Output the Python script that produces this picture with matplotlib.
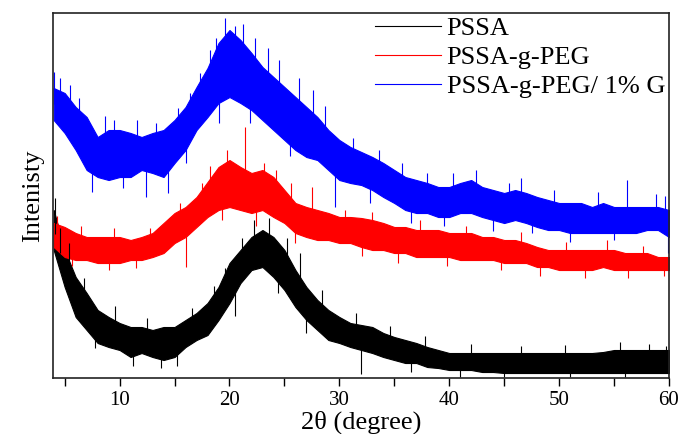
import numpy as np
import matplotlib
matplotlib.use("Agg")
import matplotlib.pyplot as plt
from matplotlib.lines import Line2D

plt.rcParams['font.family'] = ['Liberation Serif', 'DejaVu Serif']

# 2theta grid (degree), one reading per degree
two_theta = np.arange(4, 61)

# upper / lower edges of the noisy band (arb. units)
blue_hi = [290, 285, 271, 261, 241, 248, 248, 245, 241, 245, 248, 258, 271, 291, 310,
           335, 348, 338, 325, 311, 301, 291, 281, 271, 261, 248, 238, 231, 226, 221,
           215, 208, 201, 198, 195, 191, 191, 195, 198, 191, 188, 185, 188, 185, 181,
           178, 175, 175, 175, 171, 175, 171, 171, 171, 171, 171, 168]
blue_lo = [258, 245, 228, 208, 201, 198, 201, 201, 208, 205, 201, 215, 228, 248, 261,
           275, 281, 275, 268, 258, 248, 238, 228, 221, 218, 208, 198, 195, 193, 188,
           181, 175, 168, 165, 165, 161, 161, 165, 165, 161, 158, 155, 158, 155, 151,
           148, 148, 145, 145, 145, 145, 145, 145, 145, 148, 148, 141]

red_hi = [155, 151, 145, 141, 141, 141, 141, 138, 141, 145, 155, 165, 171, 181, 196,
          211, 218, 211, 205, 208, 201, 188, 175, 171, 168, 165, 161, 161, 160, 158,
          155, 151, 151, 148, 148, 148, 145, 145, 145, 141, 141, 138, 138, 135, 131,
          128, 128, 128, 128, 128, 128, 128, 125, 125, 125, 121, 121]
red_lo = [131, 121, 118, 118, 115, 115, 115, 118, 118, 121, 125, 135, 141, 151, 161,
          168, 171, 168, 165, 168, 161, 155, 145, 141, 138, 138, 135, 135, 131, 128,
          128, 125, 125, 121, 121, 121, 121, 118, 118, 118, 118, 115, 115, 115, 111,
          111, 108, 108, 108, 108, 111, 108, 108, 108, 108, 108, 108]

black_hi = [168, 128, 101, 85, 68, 61, 55, 51, 51, 48, 51, 51, 58, 65, 75,
            91, 115, 128, 141, 148, 141, 128, 108, 91, 78, 68, 61, 55, 53, 51,
            45, 41, 38, 35, 31, 28, 25, 25, 25, 25, 25, 25, 25, 25, 25,
            25, 25, 25, 25, 25, 26, 28, 28, 28, 28, 28, 28]
black_lo = [128, 91, 61, 48, 35, 31, 28, 21, 25, 21, 18, 21, 31, 38, 43,
            58, 75, 95, 108, 111, 101, 88, 71, 58, 48, 38, 35, 31, 28, 25,
            21, 18, 15, 15, 11, 10, 8, 8, 8, 6, 6, 5, 5, 5, 5,
            5, 5, 5, 5, 5, 5, 5, 5, 5, 5, 5, 5]

# single spikes sticking out of the bands (position, tip)
blue_spike_x = [4.0, 4.6, 5.5, 6.3, 8.7, 9.5, 11.6, 13.3, 15.3, 16.4, 17.3, 18.2, 18.8,
                19.6, 20.5, 21.2, 22.3, 23.5, 24.5, 26.3, 27.6, 28.7, 31.2, 33.6, 35.7,
                38.0, 40.3, 42.4, 45.4, 46.5, 49.5, 53.5, 56.2, 58.8, 59.6,
                7.5, 10.3, 12.4, 14.4, 16.0, 19.0, 21.9, 25.5, 29.6, 32.8, 36.5, 39.5,
                44.0, 47.5, 51.0, 55.0, 59.9]
blue_spike_y = [306, 300, 293, 280, 262, 258, 258, 255, 270, 285, 305, 328, 340,
                360, 352, 354, 340, 330, 318, 300, 288, 272, 240, 228, 215,
                205, 205, 208, 195, 200, 188, 186, 198, 184, 182,
                186, 190, 181, 185, 215, 255, 255, 222, 171, 175, 155, 152,
                147, 145, 136, 138, 125]
red_spike_x = [4.3, 6.5, 9.5, 12.8, 15.5, 17.5, 18.2, 19.8, 21.4, 23.1, 24.2, 25.6,
               27.5, 30.5, 33.0, 37.3, 41.5, 46.5, 50.6, 54.4, 57.6,
               5.7, 9.0, 11.5, 16.0, 19.3, 22.4, 26.0, 32.1, 35.3, 39.8, 44.7, 48.3,
               52.4, 56.3, 59.5]
red_spike_y = [162, 152, 150, 150, 175, 195, 212, 228, 251, 215, 208, 195,
               191, 168, 166, 158, 152, 146, 136, 138, 132,
               112, 108, 110, 111, 158, 152, 135, 122, 115, 112, 108, 102,
               100, 100, 102]
black_spike_x = [4.1, 4.6, 5.4, 6.8, 9.6, 12.5, 16.6, 18.6, 19.6, 21.1, 22.2, 23.6,
                 25.2, 26.4, 28.4, 31.5, 34.6, 37.8, 42.0, 46.5, 50.5, 55.5, 58.2, 59.7,
                 7.8, 11.2, 13.8, 15.2, 20.5, 24.4, 27.0, 32.0, 36.5, 41.0, 45.0, 51.0,
                 56.0]
black_spike_y = [180, 150, 135, 100, 72, 60, 70, 92, 110, 140, 158, 160,
                 140, 125, 88, 65, 52, 42, 34, 32, 33, 36, 34, 32,
                 30, 12, 10, 12, 62, 85, 45, 4, 6, 1, 1, 1,
                 1]

labels = ['PSSA', 'PSSA-g-PEG', 'PSSA-g-PEG/ 1% G']
colors = ['#000000', '#ff0000', '#0000ff']

fig, ax = plt.subplots(figsize=(6.83, 4.34), dpi=100)
fig.subplots_adjust(left=0.077, right=0.9795, top=0.970, bottom=0.129)

series = [
    (black_lo, black_hi, black_spike_x, black_spike_y),
    (red_lo, red_hi, red_spike_x, red_spike_y),
    (blue_lo, blue_hi, blue_spike_x, blue_spike_y),
]
for (lo, hi, sx, sy), c in zip(series, colors):
    lo = np.array(lo)
    hi = np.array(hi)
    ax.fill_between(two_theta, lo, hi, color=c, edgecolor=c, lw=0.8)
    mid = np.interp(sx, two_theta, (lo + hi) / 2)
    ax.vlines(sx, mid, sy, color=c, lw=0.8)

handles = [Line2D([], [], color=c, lw=0.8) for c in colors]
ax.legend(handles, labels, loc='upper right', frameon=False, fontsize=19,
          handlelength=2.5, handletextpad=0.2, labelspacing=0.2,
          borderaxespad=0.1, borderpad=0.05)

ax.set_xlim(3.9, 60)
ax.set_ylim(0, 365)
ax.set_xticks([10, 20, 30, 40, 50, 60])
ax.set_xticks([5, 15, 25, 35, 45, 55], minor=True)
ax.tick_params(axis='x', which='both', direction='out', length=6, width=1,
               labelsize=15, top=False)
ax.set_yticks([])
for s in ax.spines.values():
    s.set_linewidth(1.2)
    s.set_color('#222222')

ax.set_xlabel('2θ (degree)', fontsize=19, labelpad=0)
ax.set_ylabel('Intenisty', fontsize=19, labelpad=6)

plt.savefig('out.png', dpi=100)
